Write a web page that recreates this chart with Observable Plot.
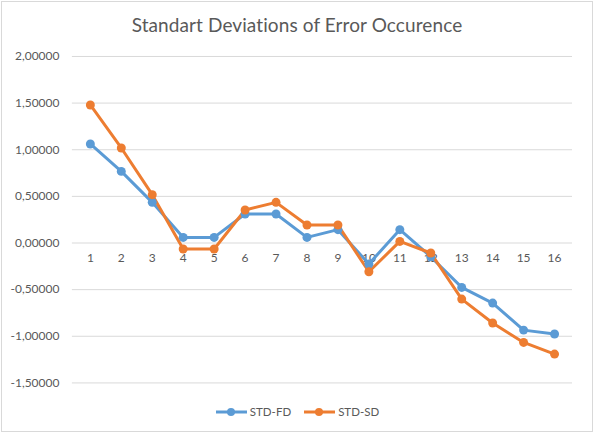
<!DOCTYPE html>
<html>
<head>
<meta charset="utf-8">
<script src="https://cdn.jsdelivr.net/npm/d3@7"></script>
<script src="https://cdn.jsdelivr.net/npm/@observablehq/plot@0.6"></script>
<style>
  html, body { margin: 0; padding: 0; background: #fff; }
  #frame { position: relative; width: 592px; height: 431px; border: 1px solid #d9d9d9; box-sizing: border-box; margin: 1px 1px 0 1px; font-family: Lato, "Open Sans", sans-serif; color: #595959; background: #fff; overflow: hidden; }
  #title { position: absolute; left: 0; top: 11px; width: 100%; text-align: center; font-size: 19px; color: #595959; letter-spacing: 0.1px; }
  #chart { position: absolute; left: -3px; top: 37px; }
  #legend { position: absolute; top: 403px; left: 0; width: 100%; display: flex; justify-content: center; gap: 12px; font-size: 11.5px; color: #595959; }
  .item { display: flex; align-items: center; gap: 2px; }
</style>
</head>
<body>
<div id="frame">
  <div id="title">Standart Deviations of Error Occurence</div>
  <div id="chart"></div>
  <div id="legend"></div>
</div>
<script>
const categories = [1,2,3,4,5,6,7,8,9,10,11,12,13,14,15,16];
const stdFD = [1.062,0.768,0.436,0.060,0.060,0.311,0.311,0.060,0.143,-0.225,0.143,-0.147,-0.476,-0.644,-0.934,-0.976];
const stdSD = [1.480,1.019,0.518,-0.064,-0.064,0.354,0.436,0.193,0.193,-0.308,0.017,-0.107,-0.601,-0.858,-1.066,-1.191];
const yTicks = [2.0,1.5,1.0,0.5,0,-0.5,-1.0,-1.5];
const seriesNames = ["STD-FD","STD-SD"];
const colors = ["#5b9bd5","#ed7d31"];

const rows = [];
categories.forEach((c,i) => {
  rows.push({cat: c, value: stdFD[i], series: seriesNames[0]});
  rows.push({cat: c, value: stdSD[i], series: seriesNames[1]});
});

const fmt = v => v.toFixed(5).replace(".", ",");

const plot = Plot.plot({
  width: 594,
  height: 356,
  marginLeft: 73,
  marginRight: 20,
  marginTop: 17,
  marginBottom: 12,
  style: {fontFamily: "Lato, 'Open Sans', sans-serif", fontSize: "12px", color: "#595959", background: "transparent"},
  x: {type: "point", domain: categories, padding: 0.5, axis: null},
  y: {domain: [-1.5, 2.0], ticks: yTicks, tickFormat: fmt, label: null},
  color: {domain: seriesNames, range: colors},
  marks: [
    Plot.gridY(yTicks, {stroke: "#d9d9d9", strokeOpacity: 1, strokeWidth: 1}),
    Plot.axisY(yTicks, {tickSize: 0, tickPadding: 13, tickFormat: fmt, fill: "#595959", fontSize: 12, label: null}),
    Plot.text(categories, {x: d => d, y: () => 0, dy: 15, text: d => String(d), fill: "#595959", fontSize: 12}),
    Plot.line(rows, {x: "cat", y: "value", z: "series", stroke: "series", strokeWidth: 3, strokeLinejoin: "round", strokeLinecap: "round"}),
    Plot.dot(rows, {x: "cat", y: "value", fill: "series", r: 4.5, stroke: "none"})
  ]
});
document.getElementById("chart").appendChild(plot);

const legend = document.getElementById("legend");
seriesNames.forEach((name, i) => {
  const item = document.createElement("div");
  item.className = "item";
  item.innerHTML = `<svg width="33" height="12"><line x1="1" y1="6" x2="32" y2="6" stroke="${colors[i]}" stroke-width="3"/><circle cx="16" cy="6" r="4" fill="${colors[i]}"/></svg><span>${name}</span>`;
  legend.appendChild(item);
});
</script>
</body>
</html>
